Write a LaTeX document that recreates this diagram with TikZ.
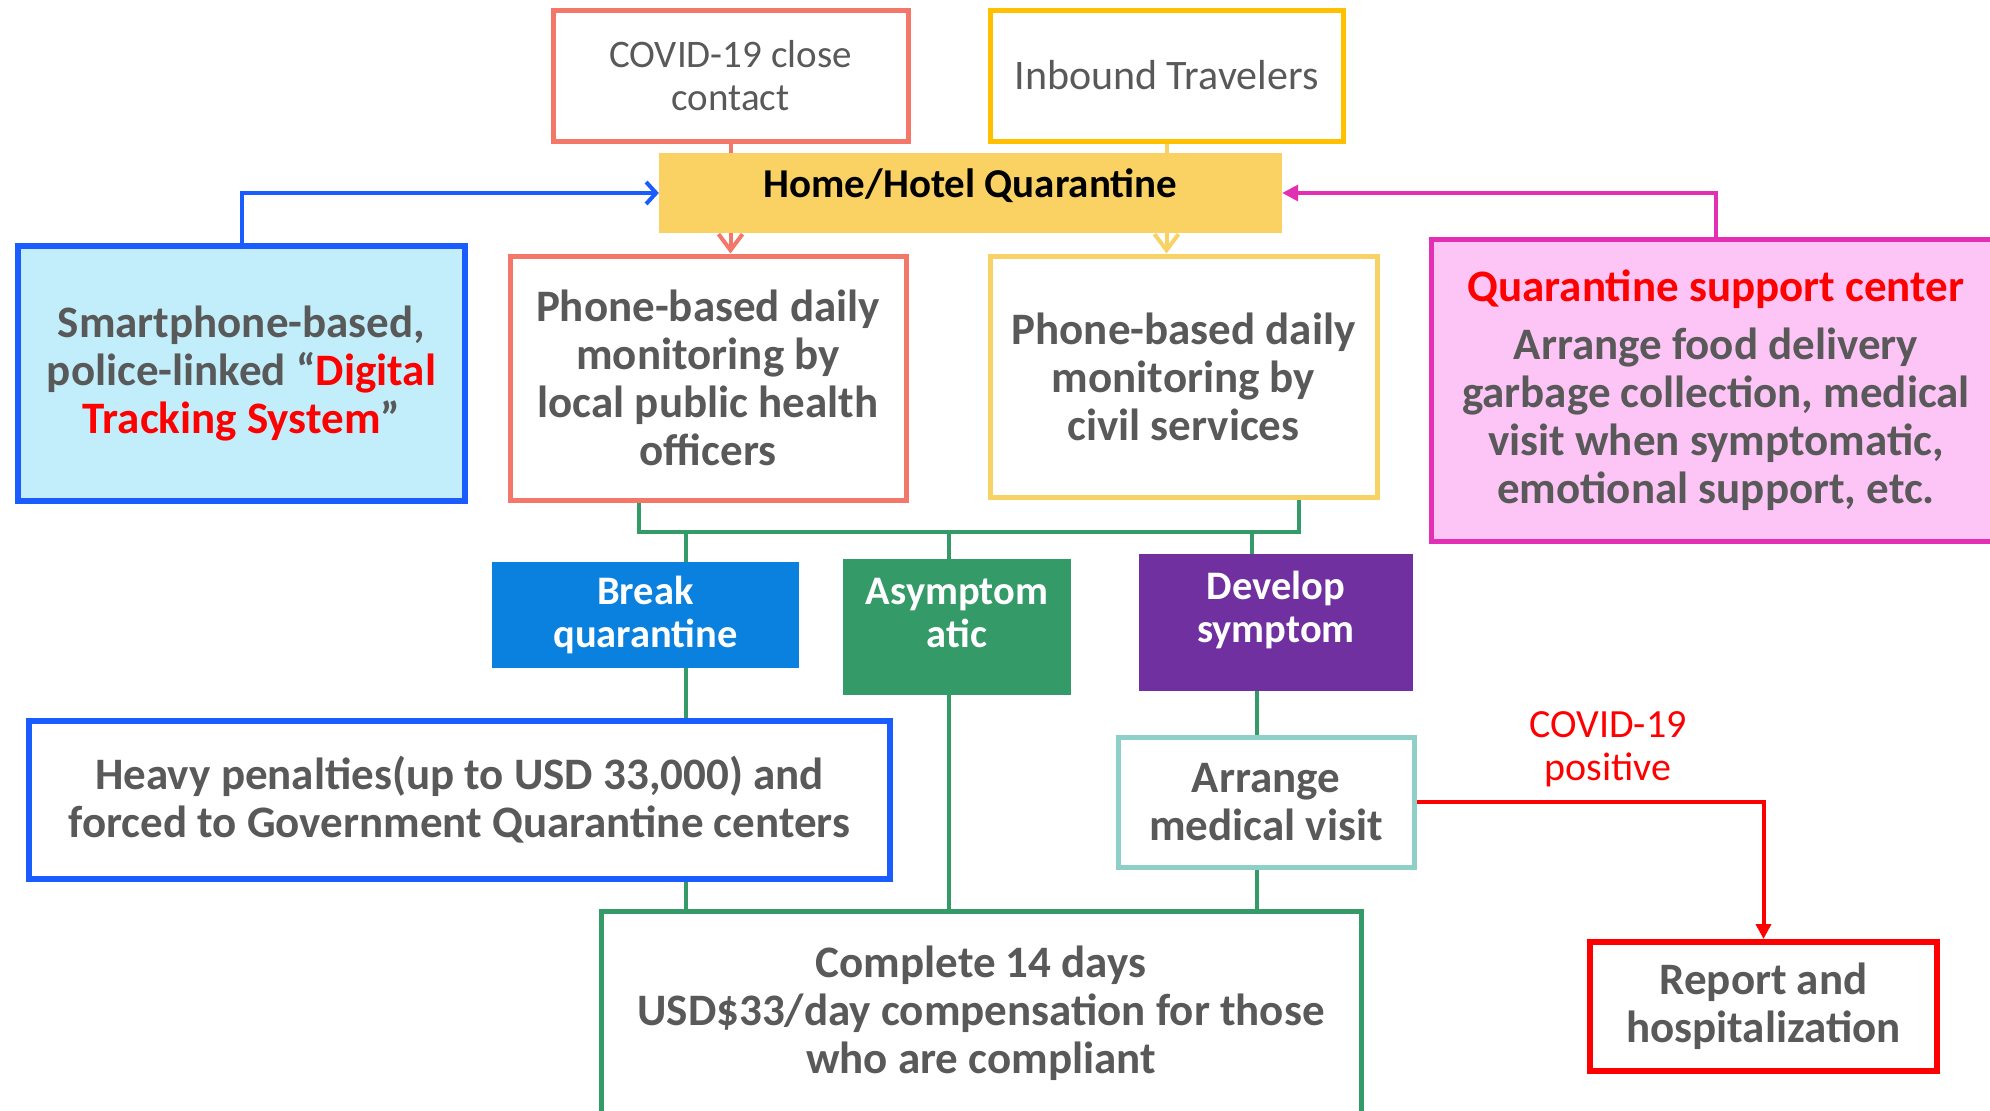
\documentclass[tikz,border=0pt]{standalone}
\usepackage{fontspec}
\setmainfont{Carlito}
\usetikzlibrary{arrows.meta,calc}
\definecolor{salmon}{HTML}{F4786A}
\definecolor{goldA}{HTML}{FFC000}
\definecolor{goldB}{HTML}{F9D266}
\definecolor{hhfill}{HTML}{F9D263}
\definecolor{blueB}{HTML}{1A5CFF}
\definecolor{cyanF}{HTML}{C2EEFC}
\definecolor{pinkF}{HTML}{FDC4F6}
\definecolor{magB}{HTML}{E32FB4}
\definecolor{brkF}{HTML}{0A80DF}
\definecolor{grnF}{HTML}{349A68}
\definecolor{purF}{HTML}{7030A0}
\definecolor{tealB}{HTML}{8ED0C8}
\definecolor{redB}{HTML}{FF0000}
\definecolor{txtgrey}{HTML}{595959}
\newcommand\bigbold{\fontsize{45}{48}\selectfont\bfseries}
\begin{document}
\begin{tikzpicture}[x=1pt,y=-1pt,
  box/.style={draw, line width=5pt, fill=white, inner sep=0pt, align=center, text=txtgrey, font=\bigbold},
  solidbox/.style={inner sep=0pt},
  solidtxt/.style={inner sep=0pt, align=center, text=white, font=\fontsize{40.5}{43}\selectfont\bfseries},
  gline/.style={draw=grnF, line width=4.5pt},
]
\useasboundingbox (0,0) rectangle (1990,1111);
\clip (0,0) rectangle (1990,1111);

% connectors drawn behind the quarantine box
\node[box, draw=salmon, minimum width=355, minimum height=131, font=\fontsize{39}{43}\selectfont] (cc) at (730.5,75.5) {COVID-19 close\\contact};
\node[box, draw=goldA, minimum width=353, minimum height=131, font=\fontsize{42}{46}\selectfont] (it) at (1166.5,75.5) {Inbound Travelers};
\node[box, draw=salmon, minimum width=396, minimum height=244] (off) at (708,378) {Phone-based daily\\monitoring by\\local public health\\officers};
\node[box, draw=goldB, minimum width=387, minimum height=241] (civ) at (1183.5,376.5) {Phone-based daily\\monitoring by\\civil services};

\draw[draw=salmon, line width=4pt, -{Straight Barb[length=16pt,width=24pt]}] (cc.south) -- (cc.south |- off.north);
\draw[draw=goldB, line width=4pt, -{Straight Barb[length=16pt,width=24pt]}] (it.south) -- (it.south |- civ.north);

\node[solidbox, fill=hhfill, minimum width=623, minimum height=80] (hh) at (970.5,193) {};
\node[inner sep=0pt, font=\fontsize{41}{46}\selectfont\bfseries, text=black] (hhT) at ($(hh.center)+(0,-7)$) {Home/Hotel Quarantine};

\node[box, draw=blueB, fill=cyanF, line width=6pt, minimum width=447, minimum height=255] (sm) at (241.5,373.5) {Smartphone-based,\\police-linked “{\color{redB}Digital}\\{\color{redB}Tracking System}”};

\node[box, draw=magB, fill=pinkF, minimum width=570, minimum height=302] (qsc) at (1716,390) {{\color{redB}Quarantine support center}\\[10pt]Arrange food delivery\\garbage collection, medical\\visit when symptomatic,\\emotional support, etc.};

\draw[draw=blueB, line width=4pt, -{Straight Barb[length=10pt,width=22pt]}] (sm.north) |- (hh.west);
\draw[draw=magB, line width=3.5pt, -{Triangle[length=16pt,width=16pt]}] (qsc.north) |- (hh.east);

% outcomes
\node[solidbox, fill=brkF, minimum width=307, minimum height=106] (brk) at (645.5,615) {};
\node[solidtxt] (brkT) at (brk.center) {Break\\quarantine};
\node[solidbox, fill=grnF, minimum width=228, minimum height=136] (as) at (957,627) {};
\node[solidtxt] (asT) at ($(as.center)+(0,-14)$) {Asymptom\\atic};
\node[solidbox, fill=purF, minimum width=274, minimum height=137] (dv) at (1276,622.5) {};
\node[solidtxt] (dvT) at ($(dv.center)+(0,-13)$) {Develop\\symptom};

\node[box, draw=blueB, line width=6pt, minimum width=861, minimum height=158] (hv) at (459.5,800) {Heavy penalties(up to USD 33,000) and\\forced to Government Quarantine centers};
\node[box, draw=tealB, minimum width=296, minimum height=130] (ar) at (1266,802) {Arrange\\medical visit};
\node[box, draw=grnF, minimum width=760, minimum height=205] (cp) at (981,1013.5) {Complete 14 days\\USD\$33/day compensation for those\\who are compliant};
\node[box, draw=redB, line width=6pt, minimum width=347, minimum height=129] (rp) at (1763.5,1006.5) {Report and\\hospitalization};

\node[inner sep=0pt, align=center, text=redB, font=\fontsize{40}{43}\selectfont] (pos) at (1608,749) {COVID-19\\positive};

% green tree
\coordinate (busL) at (639,532);
\coordinate (busR) at (1299,532);
\coordinate (bx) at (686,0);
\coordinate (ax) at (949,0);
\coordinate (dx) at (1252,0);
\coordinate (ex) at (1257,0);
\draw[gline] (off.south -| busL) -- (busL) -- (busR) -- (civ.south -| busR);
\draw[gline] (busL -| bx) -- (brk.north -| bx);
\draw[gline] (brk.south -| bx) -- (hv.north -| bx);
\draw[gline] (hv.south -| bx) -- (cp.north -| bx);
\draw[gline] (busL -| ax) -- (as.north -| ax);
\draw[gline] (as.south -| ax) -- (cp.north -| ax);
\draw[gline] (busL -| dx) -- (dv.north -| dx);
\draw[gline] (dv.south -| ex) -- (ar.north -| ex);
\draw[gline] (ar.south -| ex) -- (cp.north -| ex);

% red arrow
\coordinate (ry) at (0,801.5);
\draw[draw=redB, line width=4pt, -{Triangle[length=15pt,width=15pt]}] (ar.east |- ry) -| (rp.north);
\end{tikzpicture}
\end{document}
